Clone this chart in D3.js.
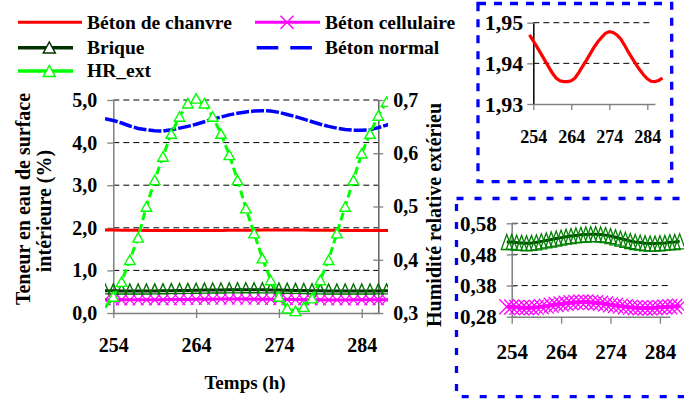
<!DOCTYPE html>
<html><head><meta charset="utf-8">
<script src="https://cdn.jsdelivr.net/npm/d3@7"></script>
<style>
body{margin:0;background:#fff}
svg{display:block}
svg text{font-family:"Liberation Serif","Tinos","Times New Roman",serif;font-weight:bold;fill:#000}
</style>
</head><body>
<svg id="c" width="684" height="399" font-family="Liberation Serif, serif"></svg>
<script>
// ---------- DATA ----------
const hours = [253,254,255,256,257,258,259,260,261,262,263,264,265,266,267,268,269,270,271,272,273,274,275,276,277,278,279,280,281,282,283,284,285,286,287,288];
const betonChanvre = [1.9470,1.9455,1.9440,1.9424,1.9408,1.9392,1.9376,1.9364,1.9357,1.9355,1.9355,1.9357,1.9364,1.9378,1.9393,1.9408,1.9424,1.9440,1.9453,1.9464,1.9474,1.9478,1.9476,1.9470,1.9460,1.9445,1.9428,1.9413,1.9398,1.9384,1.9372,1.9362,1.9356,1.9355,1.9358,1.9364];
const betonNormal = [4.56,4.52,4.46,4.39,4.33,4.30,4.28,4.27,4.30,4.34,4.38,4.43,4.49,4.55,4.60,4.65,4.69,4.72,4.74,4.75,4.74,4.71,4.66,4.61,4.55,4.49,4.43,4.38,4.34,4.31,4.29,4.29,4.30,4.35,4.41,4.47];
const brique = [0.520,0.520,0.518,0.517,0.516,0.517,0.519,0.522,0.525,0.528,0.531,0.534,0.537,0.539,0.541,0.543,0.544,0.545,0.545,0.544,0.542,0.539,0.535,0.531,0.527,0.523,0.520,0.518,0.516,0.515,0.515,0.516,0.517,0.519,0.520,0.522];
const betonCellulaire = [0.312,0.311,0.310,0.309,0.309,0.309,0.310,0.312,0.314,0.317,0.319,0.321,0.323,0.325,0.326,0.327,0.327,0.326,0.325,0.323,0.321,0.318,0.316,0.314,0.312,0.310,0.309,0.308,0.308,0.308,0.309,0.310,0.311,0.312,0.313,0.314];
const hrExt = [0.310,0.331,0.359,0.400,0.442,0.500,0.550,0.594,0.637,0.669,0.694,0.703,0.694,0.669,0.637,0.597,0.550,0.497,0.450,0.403,0.362,0.331,0.309,0.304,0.312,0.328,0.362,0.400,0.450,0.500,0.550,0.600,0.637,0.671,0.697,0.705];

const xTicks = [254,264,274,284];
const yLeftTicks = [0,1,2,3,4,5];
const yRightTicks = [0.3,0.4,0.5,0.6,0.7];
const inset1Ticks = [1.93,1.94,1.95];
const inset2Ticks = [0.28,0.38,0.48,0.58];
const legendNames = ["Béton de chanvre","Béton cellulaire","Brique","Béton normal","HR_ext"];

// ---------- HELPERS ----------
const svg = d3.select("#c");
const FONT = "Liberation Serif, Tinos, Times New Roman, serif";
const fr = d3.formatLocale({decimal:",",thousands:" ",grouping:[3],currency:["","€"]});
const f1 = fr.format(".1f"), f2 = fr.format(".2f");
const tri = (w,h) => `M0,${-h/2}L${w/2},${h/2}L${-w/2},${h/2}Z`;
const cross = s => `M${-s},${-s}L${s},${s}M${-s},${s}L${s},${-s}`;
const C = {red:"#ff0000", mag:"#ff00ff", dg:"#003300", dgm:"#007000", blue:"#0000ff", lg:"#00ff00", axis:"#808080"};
const pts = arr => hours.map((h,i)=>({h, v:arr[i]}));

function styleAxis(g, c1, c2, vertical){
  g.select(".domain").attr("stroke", C.axis).attr("stroke-width",1.5);
  g.selectAll(".tick line").attr("stroke", C.axis).attr("stroke-width",1.3)
   .attr(vertical?"x1":"y1", c1).attr(vertical?"x2":"y2", c2);
  g.selectAll(".tick text").attr("fill","#000").attr("font-weight","bold");
  g.attr("font-family",FONT).attr("font-size",null);
}

// ---------- MAIN CHART ----------
const x = d3.scaleLinear().domain([254,286]).range([113.3,378.3]);
const yL = d3.scaleLinear().domain([0,5]).range([313,100]);
const yR = d3.scaleLinear().domain([0.3,0.7]).range([313,100]);

svg.append("defs").append("clipPath").attr("id","mclip")
  .append("rect").attr("x",105).attr("y",0).attr("width",283).attr("height",399);

svg.append("g").selectAll("line").data(yLeftTicks.filter(d=>d>0)).join("line")
  .attr("x1",x(254)).attr("x2",x(286)).attr("y1",d=>yL(d)).attr("y2",d=>yL(d))
  .attr("stroke","#000").attr("stroke-width",1).attr("stroke-dasharray","6,4");

const gL = svg.append("g").attr("transform",`translate(${x(254)},0)`)
  .call(d3.axisLeft(yL).tickValues(yLeftTicks).tickFormat(f1).tickSizeInner(6).tickSizeOuter(0).tickPadding(10));
gL.selectAll("text").style("font-size","20px");
styleAxis(gL, 0, -6, true);
const gR = svg.append("g").attr("transform",`translate(${x(286)},0)`)
  .call(d3.axisRight(yR).tickValues(yRightTicks).tickFormat(f1).tickSizeInner(5).tickSizeOuter(0).tickPadding(10));
gR.selectAll("text").style("font-size","20px");
styleAxis(gR, -5, 5, true);
gR.select(".domain").attr("stroke","#606060");
const gX = svg.append("g").attr("transform",`translate(0,${yL(0)})`)
  .call(d3.axisBottom(x).tickValues(xTicks).tickFormat(d3.format("d")).tickSizeInner(5).tickSizeOuter(0).tickPadding(20));
gX.selectAll("text").style("font-size","20px");
styleAxis(gX, -4, 5, false);

const M = svg.append("g").attr("clip-path","url(#mclip)");
M.append("path").datum(pts(betonChanvre))
  .attr("d", d3.line().x(d=>x(d.h)).y(d=>yL(d.v)))
  .attr("fill","none").attr("stroke",C.red).attr("stroke-width",3);
M.append("path").datum(pts(betonCellulaire))
  .attr("d", d3.line().x(d=>x(d.h)).y(d=>yL(d.v)))
  .attr("fill","none").attr("stroke",C.mag).attr("stroke-width",3);
M.append("g").selectAll("path").data(pts(betonCellulaire)).join("path")
  .attr("transform",d=>`translate(${x(d.h)},${yL(d.v)})`).attr("d",cross(5.5))
  .attr("fill","none").attr("stroke",C.mag).attr("stroke-width",1.2);
M.append("path").datum(pts(brique))
  .attr("d", d3.line().x(d=>x(d.h)).y(d=>yL(d.v)))
  .attr("fill","none").attr("stroke",C.dg).attr("stroke-width",3);
M.append("g").selectAll("path").data(pts(brique)).join("path")
  .attr("transform",d=>`translate(${x(d.h)},${yL(d.v)-2})`).attr("d",tri(9,10))
  .attr("fill","none").attr("stroke",C.dgm).attr("stroke-width",1.4);
M.append("path").datum(pts(betonNormal))
  .attr("d", d3.line().x(d=>x(d.h)).y(d=>yL(d.v)))
  .attr("fill","none").attr("stroke",C.blue).attr("stroke-width",3.5).attr("stroke-dasharray","13,2");
M.append("path").datum(pts(hrExt))
  .attr("d", d3.line().x(d=>x(d.h)).y(d=>yR(d.v)))
  .attr("fill","none").attr("stroke",C.lg).attr("stroke-width",3).attr("stroke-dasharray","8,4");
M.append("g").selectAll("path").data(pts(hrExt).filter(d=>d.h>=254)).join("path")
  .attr("transform",d=>`translate(${x(d.h)},${yR(d.v)})`).attr("d",tri(10.5,9.5))
  .attr("fill","#fff").attr("stroke",C.lg).attr("stroke-width",1.4);

svg.append("text").attr("transform","translate(30,199) rotate(-90)").attr("text-anchor","middle")
  .style("font-size","20px").text("Teneur en eau de surface");
svg.append("text").attr("transform","translate(51,211) rotate(-90)").attr("text-anchor","middle")
  .style("font-size","20px").text("intérieure (%)");
svg.append("text").attr("transform","translate(441,327) rotate(-90)").attr("text-anchor","start")
  .style("font-size","20px").text("Humidité relative extérieu");
svg.append("text").attr("x",245).attr("y",389).attr("text-anchor","middle")
  .style("font-size","19px").text("Temps (h)");

// ---------- LEGEND ----------
const lg = svg.append("g").style("font-size","19.5px");
lg.append("line").attr("x1",18).attr("x2",82).attr("y1",22.3).attr("y2",22.3).attr("stroke",C.red).attr("stroke-width",3);
lg.append("text").attr("x",87).attr("y",29.3).text(legendNames[0]);
lg.append("line").attr("x1",255).attr("x2",320).attr("y1",22.3).attr("y2",22.3).attr("stroke",C.mag).attr("stroke-width",3);
lg.append("path").attr("transform","translate(287,22.3)").attr("d",cross(6.5)).attr("stroke",C.mag).attr("stroke-width",1.5);
lg.append("text").attr("x",325).attr("y",29.3).text(legendNames[1]);
lg.append("line").attr("x1",18).attr("x2",73).attr("y1",47.7).attr("y2",47.7).attr("stroke",C.dg).attr("stroke-width",3.5);
lg.append("path").attr("transform","translate(49.3,47.5)").attr("d",tri(12,11)).attr("fill","#fff").attr("stroke",C.dg).attr("stroke-width",1.5);
lg.append("text").attr("x",87).attr("y",54).text(legendNames[2]);
lg.append("line").attr("x1",256.7).attr("x2",312).attr("y1",47.7).attr("y2",47.7).attr("stroke",C.blue).attr("stroke-width",3.5).attr("stroke-dasharray","21.6,12");
lg.append("text").attr("x",325).attr("y",54).text(legendNames[3]);
lg.append("line").attr("x1",18).attr("x2",73).attr("y1",71).attr("y2",71).attr("stroke",C.lg).attr("stroke-width",3.5);
lg.append("path").attr("transform","translate(49.3,71)").attr("d",tri(12,11)).attr("fill","#fff").attr("stroke",C.lg).attr("stroke-width",1.5);
lg.append("text").attr("x",87).attr("y",77).text(legendNames[4]);

// ---------- INSET 1 ----------
svg.append("rect").attr("x",478).attr("y",3.5).attr("width",193.7).attr("height",178.2)
  .attr("fill","none").attr("stroke",C.blue).attr("stroke-width",3.3).attr("stroke-dasharray","8,8");
const x1 = d3.scaleLinear().domain([254,286]).range([533.3,654.9]);
const y1 = d3.scaleLinear().domain([1.93,1.95]).range([104,22.7]);
svg.append("g").selectAll("line").data(inset1Ticks.filter(d=>d>1.93)).join("line")
  .attr("x1",x1(254)).attr("x2",650).attr("y1",d=>y1(d)).attr("y2",d=>y1(d))
  .attr("stroke","#000").attr("stroke-width",1).attr("stroke-dasharray","6,4");
const g1L = svg.append("g").attr("transform",`translate(${x1(254)},0)`)
  .call(d3.axisLeft(y1).tickValues(inset1Ticks).tickFormat(f2).tickSizeInner(6).tickSizeOuter(0).tickPadding(4));
g1L.selectAll("text").style("font-size","22px");
styleAxis(g1L, 0, -6, true);
g1L.select(".domain").attr("stroke","#000");
const g1X = svg.append("g").attr("transform",`translate(0,${y1(1.93)})`)
  .call(d3.axisBottom(x1).tickValues(xTicks).tickFormat(d3.format("d")).tickSizeInner(6).tickSizeOuter(0).tickPadding(20));
g1X.selectAll("text").style("font-size","18px");
styleAxis(g1X, 0, 6, false);
svg.append("path").datum(pts(betonChanvre))
  .attr("d", d3.line().x(d=>x1(d.h)).y(d=>y1(d.v)))
  .attr("fill","none").attr("stroke",C.red).attr("stroke-width",3.2);

// ---------- INSET 2 ----------
svg.append("rect").attr("x",456.5).attr("y",198.5).attr("width",240).attr("height",198.2)
  .attr("fill","none").attr("stroke",C.blue).attr("stroke-width",3.3).attr("stroke-dasharray","7,11");
const x2 = d3.scaleLinear().domain([254,286]).range([511.7,669.8]);
const y2 = d3.scaleLinear().domain([0.28,0.58]).range([316.7,223.3]);
svg.append("g").selectAll("line").data(inset2Ticks.filter(d=>d>0.28)).join("line")
  .attr("x1",x2(254)).attr("x2",x2(286)).attr("y1",d=>y2(d)).attr("y2",d=>y2(d))
  .attr("stroke","#000").attr("stroke-width",1).attr("stroke-dasharray","6,4");
const g2L = svg.append("g").attr("transform",`translate(${x2(254)},0)`)
  .call(d3.axisLeft(y2).tickValues(inset2Ticks).tickFormat(f2).tickSizeInner(5).tickSizeOuter(0).tickPadding(10));
g2L.selectAll("text").style("font-size","21px");
styleAxis(g2L, 5, -5, true);
const g2X = svg.append("g").attr("transform",`translate(0,${y2(0.28)})`)
  .call(d3.axisBottom(x2).tickValues(xTicks).tickFormat(d3.format("d")).tickSizeInner(7).tickSizeOuter(0).tickPadding(20));
g2X.selectAll("text").style("font-size","21px");
styleAxis(g2X, 0, 7, false);
svg.append("path").datum(pts(betonCellulaire))
  .attr("d", d3.line().x(d=>x2(d.h)).y(d=>y2(d.v)))
  .attr("fill","none").attr("stroke",C.mag).attr("stroke-width",4);
svg.append("g").selectAll("path").data(pts(betonCellulaire)).join("path")
  .attr("transform",d=>`translate(${x2(d.h)},${y2(d.v)})`).attr("d",cross(7.5))
  .attr("fill","none").attr("stroke",C.mag).attr("stroke-width",1.3);
svg.append("path").datum(pts(brique))
  .attr("d", d3.line().x(d=>x2(d.h)).y(d=>y2(d.v)))
  .attr("fill","none").attr("stroke","#004d00").attr("stroke-width",3);
svg.append("g").selectAll("path").data(pts(brique)).join("path")
  .attr("transform",d=>`translate(${x2(d.h)},${y2(d.v)})`).attr("d",tri(11,15))
  .attr("fill","none").attr("stroke","#008000").attr("stroke-width",1.3);
</script>
</body></html>
